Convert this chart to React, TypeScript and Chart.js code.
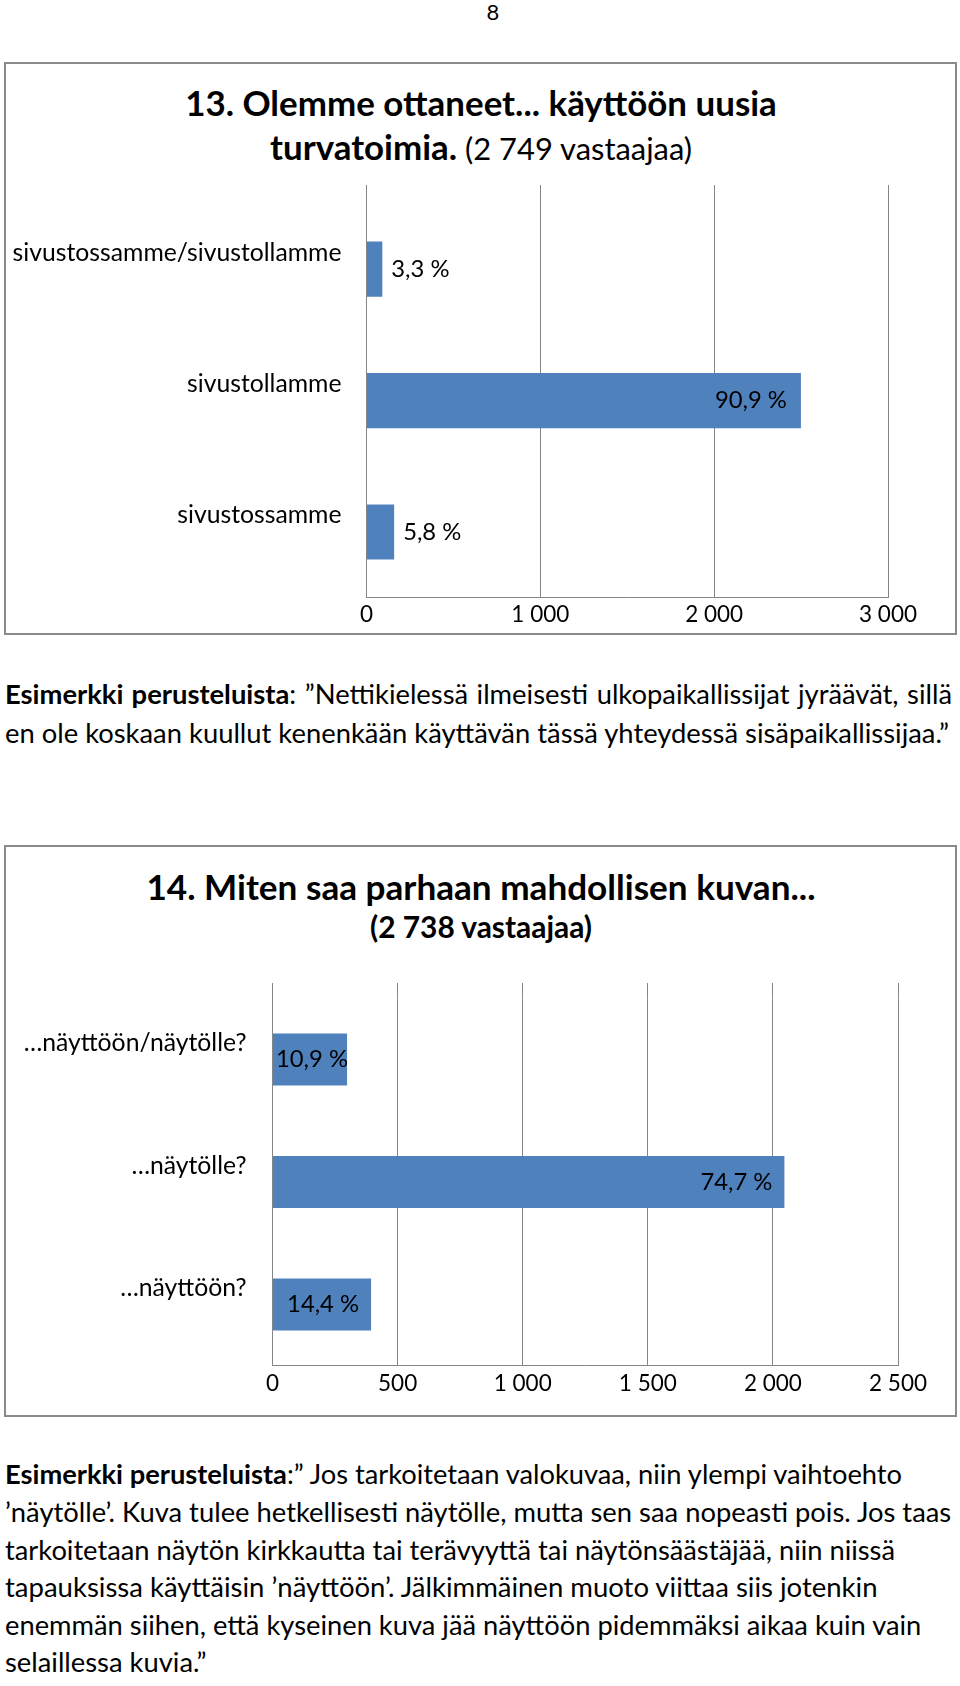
import React, { useEffect, useRef } from 'react';
import { Chart, registerables } from 'chart.js';

Chart.register(...registerables);

// ---------------- Data ----------------
const q13Categories = ['sivustossamme/sivustollamme', 'sivustollamme', 'sivustossamme'];
const q13Counts = [91, 2499, 159];
const q13Percents = [3.3, 90.9, 5.8];
const q13AxisMax = 3000;
const q13AxisStep = 1000;

const q14Categories = ['…näyttöön/näytölle?', '…näytölle?', '…näyttöön?'];
const q14Counts = [298, 2046, 394];
const q14Percents = [10.9, 74.7, 14.4];
const q14AxisMax = 2500;
const q14AxisStep = 500;

// ---------------- Styles ----------------
const FONT = 'Lato, "Open Sans", sans-serif';
const BAR_COLOR = '#4F81BD';
const GRID_COLOR = '#868686';

function fmtThousands(v: number): string {
  return String(Math.round(v)).replace(/\B(?=(\d{3})+(?!\d))/g, ' ');
}
function fmtPercent(p: number): string {
  return p.toFixed(1).replace('.', ',') + ' %';
}

// text measuring (used to calibrate the substitute font to the reference's text widths)
let measureCtx: CanvasRenderingContext2D | null = null;
function ctx2d(): CanvasRenderingContext2D {
  if (!measureCtx) measureCtx = document.createElement('canvas').getContext('2d');
  return measureCtx as CanvasRenderingContext2D;
}
type Seg = { text: string; bold?: boolean; rel?: number };
function measureSegs(segs: Seg[], size: number): number {
  const c = ctx2d();
  let w = 0;
  for (const s of segs) {
    c.font = `${s.bold ? 'bold ' : ''}${size * (s.rel || 1)}px ${FONT}`;
    w += c.measureText(s.text).width;
  }
  return w;
}
function fitSize(segs: Seg[], target: number): number {
  return (100 * target) / measureSegs(segs, 100);
}

function makeValueLabels(texts: string[], size: number, mode: 'bestFit' | 'insideEnd', inset: number, outset: number) {
  return {
    id: 'valueLabels',
    afterDatasetsDraw(chart: any) {
      const ctx = chart.ctx as CanvasRenderingContext2D;
      const meta = chart.getDatasetMeta(0);
      ctx.save();
      ctx.font = `${size}px ${FONT}`;
      ctx.fillStyle = '#000';
      ctx.textBaseline = 'middle';
      ctx.textAlign = 'left';
      meta.data.forEach((bar: any, i: number) => {
        const text = texts[i];
        const w = ctx.measureText(text).width;
        const start = Math.min(bar.base, bar.x);
        const end = Math.max(bar.base, bar.x);
        let x: number;
        if (mode === 'bestFit' && w + inset * 2 > end - start) {
          x = end + outset;
        } else {
          x = Math.max(start + 3, end - inset - w);
        }
        ctx.fillText(text, x, bar.y);
      });
      ctx.restore();
    },
  };
}

type Spec = {
  top: number;
  height: number;
  categories: string[];
  counts: number[];
  percents: number[];
  max: number;
  step: number;
  plotLeft: number;
  plotRight: number;
  plotTop: number;
  plotBottom: number;
  gridTop: number;
  tickCenter: number;
  labelPad: number;
  labelShift: number;
  barPct: number;
  mode: 'bestFit' | 'insideEnd';
  inset: number;
  outset: number;
  catSize: number;
  tickSize: number;
  valueSize: number;
};

function HorizontalBarChart(s: Spec) {
  const ref = useRef<HTMLCanvasElement>(null);
  useEffect(() => {
    const canvas = ref.current;
    if (!canvas) return;
    const tickLen = s.plotTop - s.gridTop;
    const xAxisHeight = 44;
    const chart = new Chart(canvas, {
      type: 'bar',
      data: {
        labels: s.categories,
        datasets: [
          {
            label: 'Vastaajia',
            data: s.counts,
            backgroundColor: BAR_COLOR,
            borderWidth: 0,
            categoryPercentage: 1,
            barPercentage: s.barPct,
          },
        ],
      },
      options: {
        indexAxis: 'y',
        animation: false,
        responsive: false,
        maintainAspectRatio: false,
        devicePixelRatio: 1,
        layout: {
          padding: {
            left: 0,
            top: s.plotTop - s.top - tickLen,
            right: 960 - s.plotRight,
            bottom: s.top + s.height - s.plotBottom - xAxisHeight,
          },
        },
        plugins: {
          legend: { display: false },
          tooltip: { enabled: false },
          title: { display: false },
        },
        scales: {
          x: {
            type: 'linear',
            position: 'bottom',
            min: 0,
            max: s.max,
            ticks: {
              stepSize: s.step,
              padding: s.tickCenter - s.plotBottom - s.tickSize / 2,
              color: '#000',
              font: { family: FONT, size: s.tickSize, lineHeight: 1 },
              maxRotation: 0,
              autoSkip: false,
              callback: (v: any) => fmtThousands(Number(v)),
            },
            grid: { color: GRID_COLOR, lineWidth: 1, drawTicks: false },
            border: { color: GRID_COLOR, width: 1 },
            afterFit: (sc: any) => {
              sc.height = xAxisHeight;
            },
          },
          xTop: {
            type: 'linear',
            position: 'top',
            min: 0,
            max: s.max,
            ticks: { display: false, stepSize: s.step },
            grid: {
              color: GRID_COLOR,
              lineWidth: 1,
              drawOnChartArea: false,
              drawTicks: true,
              tickLength: tickLen,
            },
            border: { display: false },
            afterFit: (sc: any) => {
              sc.height = tickLen;
            },
          },
          y: {
            type: 'category',
            ticks: {
              color: '#000',
              font: { family: FONT, size: s.catSize, lineHeight: 1 },
              padding: s.labelPad,
              labelOffset: s.labelShift,
              autoSkip: false,
            },
            grid: { display: false, drawTicks: false },
            border: { color: GRID_COLOR, width: 1 },
            afterFit: (sc: any) => {
              sc.width = s.plotLeft;
            },
          },
        },
      } as any,
      plugins: [makeValueLabels(s.percents.map(fmtPercent), s.valueSize, s.mode, s.inset, s.outset)],
    });
    return () => chart.destroy();
  }, []);
  return (
    <canvas
      ref={ref}
      width={960}
      height={s.height}
      style={{ position: 'absolute', left: 0, top: s.top, width: 960, height: s.height, display: 'block' }}
    />
  );
}

// one line of HTML text, vertically placed by the centre of its capitals
function Line(props: {
  segs: Seg[];
  size: number;
  y: number;
  lh: number;
  center?: boolean;
  target?: number;
  justify?: boolean;
}) {
  const { segs, size, y, lh, center, target, justify } = props;
  const natural = measureSegs(segs, size);
  let transform: string | undefined;
  let wordSpacing: number | undefined;
  if (target && justify) {
    const spaces = segs.reduce((n, s) => n + (s.text.match(/ /g) || []).length, 0);
    wordSpacing = spaces ? (target - natural) / spaces : 0;
  } else if (target) {
    transform = `scaleX(${target / natural})`;
  }
  return (
    <div
      style={{
        position: 'absolute',
        top: y - lh / 2 - 0.03 * size,
        left: 5,
        width: center ? 952 : undefined,
        textAlign: center ? 'center' : 'left',
        fontSize: size,
        lineHeight: `${lh}px`,
        whiteSpace: 'pre',
        transform,
        transformOrigin: 'left center',
        wordSpacing,
      }}
    >
      {segs.map((s, i) => (
        <span key={i} style={{ fontWeight: s.bold ? 700 : 400, fontSize: size * (s.rel || 1) }}>
          {s.text}
        </span>
      ))}
    </div>
  );
}

const boxStyle = (top: number, height: number): React.CSSProperties => ({
  position: 'absolute',
  left: 4,
  top,
  width: 953,
  height,
  boxSizing: 'border-box',
  border: '2px solid #8a8a8a',
});

export default function App() {
  // calibrate sizes so that text widths match the reference
  const catSize = fitSize([{ text: q13Categories[0] }], 329);
  const tickSize = fitSize([{ text: fmtThousands(2000) }], 58);
  const valueSize = fitSize([{ text: fmtPercent(90.9) }], 72);

  const t1a: Seg[] = [{ text: '13. Olemme ottaneet... käyttöön uusia', bold: true }];
  const t1b: Seg[] = [
    { text: 'turvatoimia.', bold: true },
    { text: ' (2 749 vastaajaa)', rel: 0.885 },
  ];
  const t2a: Seg[] = [{ text: '14. Miten saa parhaan mahdollisen kuvan...', bold: true }];
  const t2b: Seg[] = [{ text: '(2 738 vastaajaa)', bold: true }];

  const p1: Seg[][] = [
    [{ text: 'Esimerkki perusteluista', bold: true }, { text: ': ”Nettikielessä ilmeisesti ulkopaikallissijat jyräävät, sillä' }],
    [{ text: 'en ole koskaan kuullut kenenkään käyttävän tässä yhteydessä sisäpaikallissijaa.”' }],
  ];
  const p2: Seg[][] = [
    [{ text: 'Esimerkki perusteluista', bold: true }, { text: ':” Jos tarkoitetaan valokuvaa, niin ylempi vaihtoehto' }],
    [{ text: '’näytölle’. Kuva tulee hetkellisesti näytölle, mutta sen saa nopeasti pois. Jos taas' }],
    [{ text: 'tarkoitetaan näytön kirkkautta tai terävyyttä tai näytönsäästäjää, niin niissä' }],
    [{ text: 'tapauksissa käyttäisin ’näyttöön’. Jälkimmäinen muoto viittaa siis jotenkin' }],
    [{ text: 'enemmän siihen, että kyseinen kuva jää näyttöön pidemmäksi aikaa kuin vain' }],
    [{ text: 'selaillessa kuvia.”' }],
  ];
  const p2Widths = [900, 947, 890, 874, 917, undefined];
  const paraSize = fitSize(p2[1], 947);

  return (
    <div
      style={{
        position: 'absolute',
        left: 0,
        top: 0,
        width: 960,
        height: 1686,
        overflow: 'hidden',
        background: '#fff',
        fontFamily: FONT,
        color: '#000',
      }}
    >
      <div
        style={{
          position: 'absolute',
          top: -3,
          left: 443,
          width: 100,
          textAlign: 'center',
          fontSize: 22,
          lineHeight: '30px',
        }}
      >
        8
      </div>

      {/* Question 13 */}
      <div style={boxStyle(62, 573)} />
      <Line segs={t1a} size={fitSize(t1a, 592)} y={104.5} lh={40} center />
      <Line segs={t1b} size={fitSize(t1b, 423)} y={148} lh={40} center />
      <HorizontalBarChart
        top={160}
        height={490}
        categories={q13Categories}
        counts={q13Counts}
        percents={q13Percents}
        max={q13AxisMax}
        step={q13AxisStep}
        plotLeft={366.5}
        plotRight={888}
        plotTop={203.5}
        plotBottom={597.7}
        gridTop={185}
        tickCenter={615}
        labelPad={25}
        labelShift={-16.5}
        barPct={0.42}
        mode="bestFit"
        inset={14}
        outset={9}
        catSize={catSize}
        tickSize={tickSize}
        valueSize={valueSize}
      />

      {p1.map((segs, i) => (
        <Line
          key={'p1' + i}
          segs={segs}
          size={paraSize}
          y={694 + i * 39}
          lh={39}
          target={i === 0 ? 947 : undefined}
          justify={i === 0}
        />
      ))}

      {/* Question 14 */}
      <div style={boxStyle(845, 572)} />
      <Line segs={t2a} size={fitSize(t2a, 669)} y={887} lh={40} center />
      <Line segs={t2b} size={fitSize(t2b, 223)} y={926.5} lh={40} center />
      <HorizontalBarChart
        top={955}
        height={460}
        categories={q14Categories}
        counts={q14Counts}
        percents={q14Percents}
        max={q14AxisMax}
        step={q14AxisStep}
        plotLeft={272.5}
        plotRight={898}
        plotTop={998.25}
        plotBottom={1365.75}
        gridTop={983}
        tickCenter={1384}
        labelPad={26}
        labelShift={-16}
        barPct={0.425}
        mode="insideEnd"
        inset={12}
        outset={9}
        catSize={catSize}
        tickSize={tickSize}
        valueSize={valueSize}
      />

      {p2.map((segs, i) => (
        <Line key={'p2' + i} segs={segs} size={paraSize} y={1475 + i * 37.6} lh={37.6} target={p2Widths[i]} />
      ))}
    </div>
  );
}
